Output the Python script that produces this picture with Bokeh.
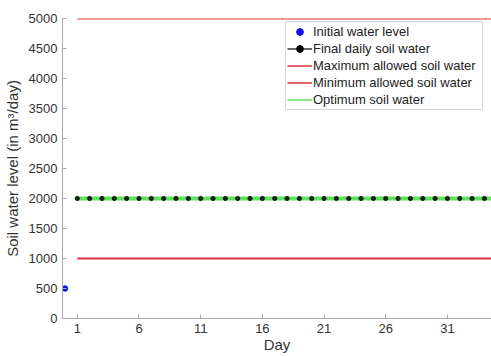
from bokeh.plotting import figure
from bokeh.models import Range1d, FixedTicker, Legend, LegendItem
from bokeh.embed import file_html
from bokeh.resources import INLINE

days = list(range(1, 36))
final_water = [2000] * len(days)
initial_day = [0]
initial_level = [500]
max_allowed = 5000
min_allowed = 1000
optimum = 2000
x_ticks = [1, 6, 11, 16, 21, 26, 31]
y_ticks = list(range(0, 5001, 500))

FONT = "Liberation Sans"
RED = "#e0323c"
GREEN = "#62e062"
NAN = float("nan")

p = figure(width=491, height=356, output_backend="svg", toolbar_location=None,
           x_range=Range1d(-0.2, 34.57), y_range=Range1d(0, 5000),
           min_border_left=62, min_border_right=0, min_border_top=18, min_border_bottom=38)
p.outline_line_color = None
p.grid.visible = False
p.background_fill_color = "white"

p.line([days[0], days[-1]], [max_allowed, max_allowed], line_color=RED, line_width=2)
p.line([days[0], days[-1]], [min_allowed, min_allowed], line_color=RED, line_width=2)
p.line(days, final_water, line_color="black", line_width=1)
p.line([days[0], days[-1]], [optimum, optimum], line_color=GREEN, line_width=4)
p.scatter(days, final_water, size=4.2, color="#142014")
r_init = p.scatter(initial_day, initial_level, size=5.5, color="#1414e6")

# legend-only glyphs (thin lines as in the legend box), non-drawable data
lg_fin_l = p.line([NAN, NAN], [NAN, NAN], line_color="black", line_width=1.2)
lg_fin_p = p.scatter([NAN], [NAN], size=4.5, color="black")
lg_max = p.line([NAN, NAN], [NAN, NAN], line_color=RED, line_width=1.5)
lg_min = p.line([NAN, NAN], [NAN, NAN], line_color=RED, line_width=1.5)
lg_opt = p.line([NAN, NAN], [NAN, NAN], line_color=GREEN, line_width=1.5)

for ax in (p.xaxis[0], p.yaxis[0]):
    ax.axis_line_color = "#a8a8a8"
    ax.major_tick_line_color = "#a8a8a8"
    ax.major_tick_in = 4
    ax.major_tick_out = 0
    ax.minor_tick_line_color = None
    ax.major_label_text_font = FONT
    ax.major_label_text_font_size = "13px"
    ax.major_label_text_color = "#333333"
    ax.axis_label_text_font = FONT
    ax.axis_label_text_font_size = "15px"
    ax.axis_label_text_font_style = "normal"
    ax.axis_label_text_color = "#333333"

p.xaxis.ticker = FixedTicker(ticks=x_ticks)
p.yaxis.ticker = FixedTicker(ticks=y_ticks)
p.xaxis.axis_label = "Day"
p.yaxis.axis_label = "Soil water level (in m³/day)"
p.xaxis.major_label_standoff = 5
p.yaxis.major_label_standoff = 5
p.xaxis.axis_label_standoff = 0
p.yaxis.axis_label_standoff = 5

legend = Legend(items=[
    LegendItem(label="Initial water level", renderers=[r_init]),
    LegendItem(label="Final daily soil water", renderers=[lg_fin_l, lg_fin_p]),
    LegendItem(label="Maximum allowed soil water", renderers=[lg_max]),
    LegendItem(label="Minimum allowed soil water", renderers=[lg_min]),
    LegendItem(label="Optimum soil water", renderers=[lg_opt]),
], location=(223, 208))
legend.label_text_font = FONT
legend.label_text_font_size = "13px"
legend.label_text_color = "#222222"
legend.glyph_width = 25
legend.glyph_height = 17
legend.label_height = 17
legend.label_width = 168
legend.label_standoff = 1
legend.spacing = 0
legend.padding = 1
legend.margin = 0
legend.border_line_color = "#b0b0b0"
legend.border_line_width = 1
legend.background_fill_color = "white"
p.add_layout(legend, "center")

open("out.html", "w").write(file_html(p, INLINE))
